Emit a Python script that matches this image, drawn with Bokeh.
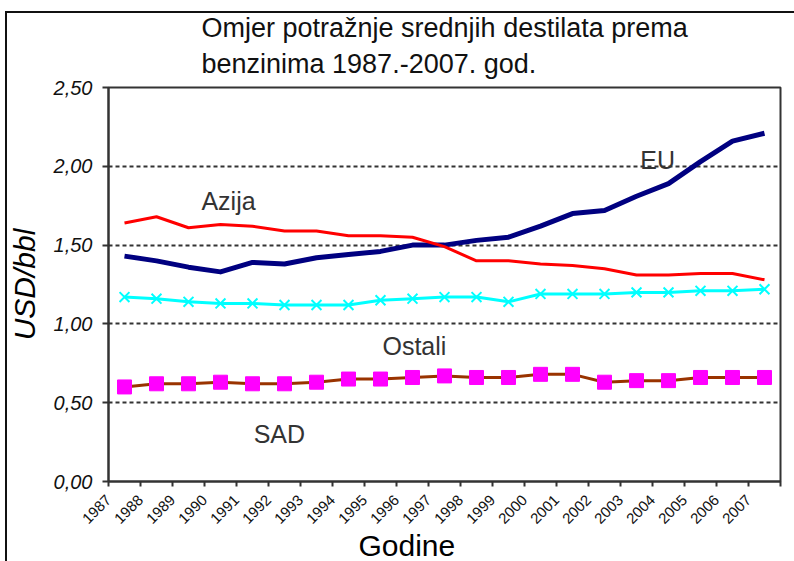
import math
from bokeh.plotting import figure
from bokeh.models import Range1d, FixedTicker, Title, CustomJSTickFormatter
from bokeh.core.properties import value
from bokeh.embed import file_html
from bokeh.resources import INLINE

# ---- data ----
years = [str(y) for y in range(1987, 2008)]
eu = [1.43, 1.40, 1.36, 1.33, 1.39, 1.38, 1.42, 1.44, 1.46, 1.50, 1.50,
      1.53, 1.55, 1.62, 1.70, 1.72, 1.81, 1.89, 2.03, 2.16, 2.21]
azija = [1.64, 1.68, 1.61, 1.63, 1.62, 1.59, 1.59, 1.56, 1.56, 1.55, 1.49,
         1.40, 1.40, 1.38, 1.37, 1.35, 1.31, 1.31, 1.32, 1.32, 1.28]
ostali = [1.17, 1.16, 1.14, 1.13, 1.13, 1.12, 1.12, 1.12, 1.15, 1.16, 1.17,
          1.17, 1.14, 1.19, 1.19, 1.19, 1.20, 1.20, 1.21, 1.21, 1.22]
sad = [0.60, 0.62, 0.62, 0.63, 0.62, 0.62, 0.63, 0.65, 0.65, 0.66, 0.67,
       0.66, 0.66, 0.68, 0.68, 0.63, 0.64, 0.64, 0.66, 0.66, 0.66]
y_ticks = [0.0, 0.5, 1.0, 1.5, 2.0, 2.5]
title_lines = ["Omjer potražnje srednjih destilata prema", "benzinima 1987.-2007. god."]
series_names = ["EU", "Azija", "Ostali", "SAD"]
# label placement (category units, value units)
name_x = [17.16, 3.75, 9.56, 5.34]
name_y = [2.04, 1.78, 0.86, 0.30]

FONT = "Liberation Sans"
n = len(years)
xc = [i + 0.5 for i in range(n)]
bounds = list(range(n + 1))

p = figure(width=794, height=561, output_backend="svg", toolbar_location=None,
           x_range=Range1d(0, n), y_range=Range1d(y_ticks[0], y_ticks[-1]),
           min_border_left=108, min_border_right=14, min_border_top=87, min_border_bottom=80)
# outer frame lines (top and left) of the picture
p.styles = {"box-shadow": "inset 5px 11px 0 0 #ffffff, inset 7px 13px 0 0 #111111",
            "background-color": "#ffffff"}
p.background_fill_color = "white"
p.border_fill_color = None
p.outline_line_color = "#333333"
p.outline_line_width = 2
p.outline_line_alpha = 1

# y axis
ya = p.yaxis[0]
ya.ticker = FixedTicker(ticks=y_ticks)
ya.formatter = CustomJSTickFormatter(code="return tick.toFixed(2).replace('.', ',');")
ya.major_label_text_font = FONT
ya.major_label_text_font_style = "italic"
ya.major_label_text_font_size = "20px"
ya.major_label_text_color = "#111111"
ya.major_label_standoff = 10
ya.major_tick_out = 6
ya.major_tick_in = 0
ya.minor_tick_line_color = None
ya.major_tick_line_color = "#333333"
ya.major_tick_line_width = 2
ya.axis_line_color = "#333333"
ya.axis_line_width = 2
ya.axis_label = "USD/bbl"
ya.axis_label_text_font = FONT
ya.axis_label_text_font_style = "italic"
ya.axis_label_text_font_size = "30px"
ya.axis_label_text_color = "#000000"
ya.axis_label_standoff = 10

p.ygrid.ticker = FixedTicker(ticks=y_ticks[1:-1])
p.ygrid.grid_line_color = "#333333"
p.ygrid.grid_line_width = 2
p.ygrid.grid_line_dash = "4 3"
p.xgrid.visible = False

# x axis: ticks on category boundaries, year label hung from each category's left tick
xa = p.xaxis[0]
xa.ticker = FixedTicker(ticks=bounds)
xa.formatter = CustomJSTickFormatter(args=dict(years=years),
                                     code="const i = Math.round(tick); return i < years.length ? years[i] : '';")
xa.major_tick_out = 5
xa.major_tick_in = 0
xa.minor_tick_line_color = None
xa.major_tick_line_color = "#333333"
xa.major_tick_line_width = 2
xa.axis_line_color = "#333333"
xa.axis_line_width = 2
xa.major_label_orientation = math.pi / 4
xa.major_label_standoff = 11
xa.major_label_text_font = FONT
xa.major_label_text_font_size = "15px"
xa.major_label_text_color = "#111111"

p.add_layout(Title(text="Godine", align="left", offset=250, standoff=-9, text_font=FONT,
                   text_font_size="30px", text_font_style="normal", text_color="#000000"), "below")

p.add_layout(Title(text=title_lines[1], align="left", offset=93, standoff=17, text_font=FONT,
                   text_font_size="27px", text_font_style="normal", text_color="#111111"), "above")
p.add_layout(Title(text=title_lines[0], align="left", offset=93, standoff=-9, text_font=FONT,
                   text_font_size="27px", text_font_style="normal", text_color="#111111"), "above")

# series
p.line(xc, eu, line_color="#000080", line_width=5, line_join="round")
p.line(xc, azija, line_color="#FF0000", line_width=3, line_join="round")
p.line(xc, ostali, line_color="#00FFFF", line_width=3)
p.scatter(xc, ostali, marker="x", size=14, line_color="#00FFFF", line_width=2)
p.line(xc, sad, line_color="#993300", line_width=3)
p.scatter(xc, sad, marker="square", size=14, fill_color="#FF00FF", line_color="#FF00FF")

p.text(x=name_x, y=name_y, text=series_names, text_font=value(FONT), text_font_size="25px",
       text_color="#333333", text_align="center", text_baseline="middle")

open("out.html", "w").write(file_html(p, INLINE))
